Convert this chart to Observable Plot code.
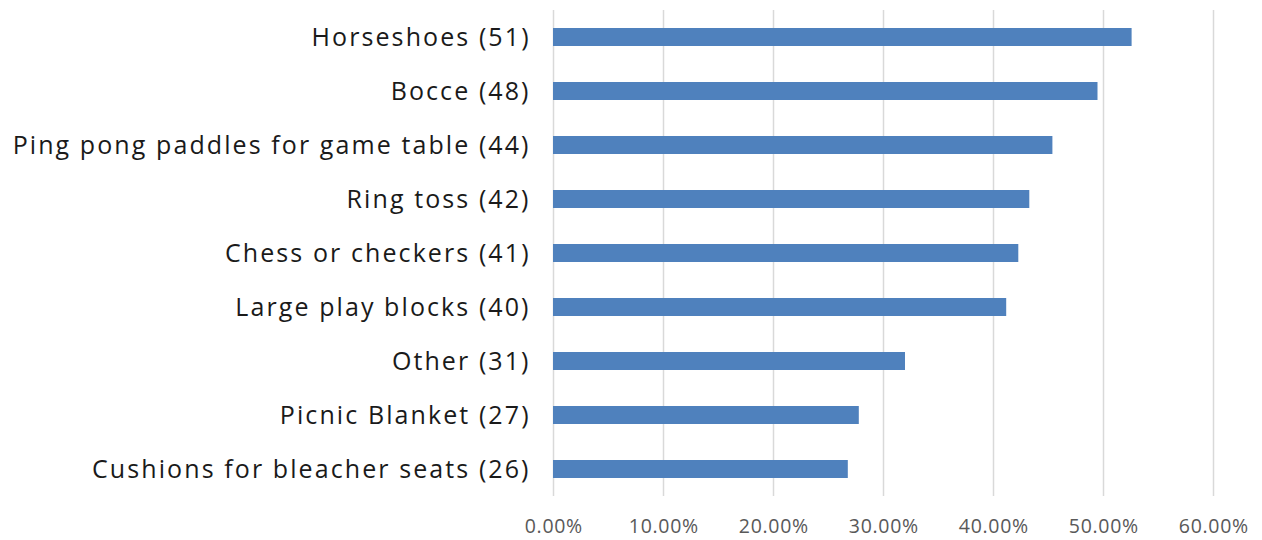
<!DOCTYPE html>
<html>
<head>
<meta charset="utf-8">
<script src="https://cdn.jsdelivr.net/npm/d3@7"></script>
<script src="https://cdn.jsdelivr.net/npm/@observablehq/plot@0.6"></script>
<style>
  html, body { margin: 0; padding: 0; background: #fff; }
  #chart svg { display: block; }
</style>
</head>
<body>
<div id="chart"></div>
<script>
const categories = [
  "Horseshoes (51)",
  "Bocce (48)",
  "Ping pong paddles for game table (44)",
  "Ring toss (42)",
  "Chess or checkers (41)",
  "Large play blocks (40)",
  "Other (31)",
  "Picnic Blanket (27)",
  "Cushions for bleacher seats (26)"
];
const percents = [52.6, 49.5, 45.4, 43.3, 42.3, 41.2, 32.0, 27.8, 26.8];
const xTicks = [0, 10, 20, 30, 40, 50, 60];

const data = categories.map((c, i) => ({category: c, value: percents[i]}));

const chart = Plot.plot({
  width: 1262,
  height: 540,
  marginLeft: 553,
  marginRight: 49,
  marginTop: 10,
  marginBottom: 44,
  style: {background: "#fff"},
  x: {domain: [0, 60], ticks: xTicks, label: null},
  y: {domain: categories, label: null, paddingInner: 0.66, paddingOuter: 0.33},
  marks: [
    Plot.gridX(xTicks, {stroke: "#d9d9d9", strokeOpacity: 1, strokeWidth: 1.5}),
    Plot.barX(data, {x: "value", y: "category", fill: "#4f81bd"}),
    Plot.axisX(xTicks, {
      tickSize: 0, tickPadding: 23,
      tickFormat: d => d.toFixed(2) + "%",
      fontSize: 19.5, fill: "#595959",
      fontFamily: "Open Sans, sans-serif"
    }),
    Plot.axisY({
      tickSize: 0, tickPadding: 25,
      fontSize: 25, fill: "#1a1a1a",
      fontFamily: "Open Sans, sans-serif"
    })
  ]
});
document.getElementById("chart").appendChild(chart);

// widen the label lettering to the reference text widths
function fit(label, sample, target, anchorEnd) {
  const texts = Array.from(chart.querySelectorAll('[aria-label="' + label + '"] text'));
  const t0 = texts.find(t => t.textContent === sample);
  if (!t0) return;
  const w = t0.getComputedTextLength();
  const ls = Math.max(0, (target - w) / sample.length);
  texts.forEach(t => {
    t.style.letterSpacing = ls.toFixed(2) + "px";
    t.setAttribute("dx", (anchorEnd ? ls : ls / 2).toFixed(2));
  });
}
fit("y-axis tick label", "Ping pong paddles for game table (44)", 518, true);
fit("x-axis tick label", "10.00%", 70, false);
</script>
</body>
</html>
